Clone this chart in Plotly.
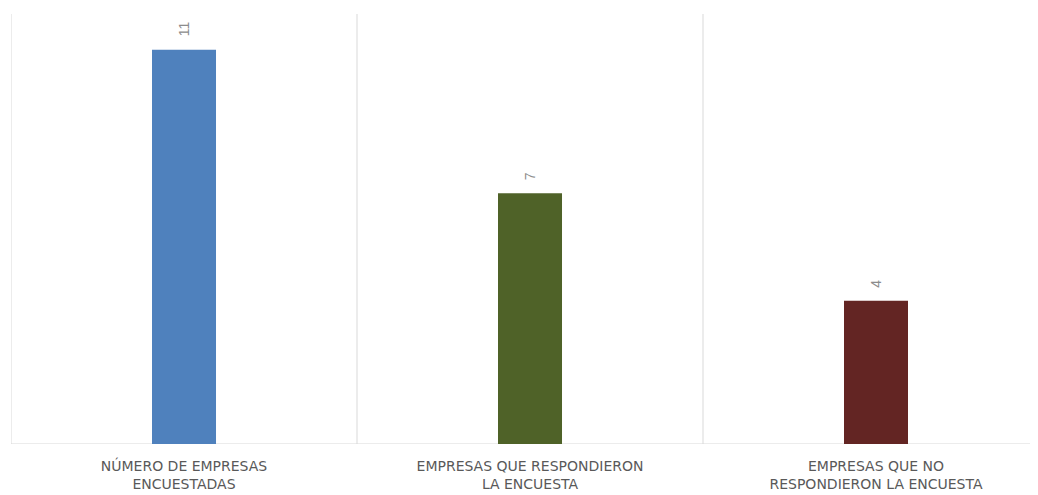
import plotly.graph_objects as go

categories = ["NÚMERO DE EMPRESAS<br>ENCUESTADAS",
              "EMPRESAS QUE RESPONDIERON<br>LA ENCUESTA",
              "EMPRESAS QUE NO<br>RESPONDIERON LA ENCUESTA"]
values = [11, 7, 4]
colors = ["#4F81BD", "#4F6228", "#632523"]

xs = list(range(len(categories)))

fig = go.Figure()
fig.add_trace(go.Bar(
    x=xs, y=values, width=0.185,
    marker=dict(color=colors, line=dict(width=0)),
    hoverinfo="skip", showlegend=False,
))

for x, v in zip(xs, values):
    fig.add_annotation(x=x, y=v, text=str(v), showarrow=False,
                       textangle=-90, yanchor="bottom", yshift=11,
                       font=dict(family="Liberation Sans, Arial", size=14, color="#8c8c8c"))

# category separator lines
for i in range(len(categories)):
    fig.add_shape(type="line", x0=i - 0.5, x1=i - 0.5, y0=0, y1=1,
                  xref="x", yref="paper", line=dict(color="#d9d9d9", width=1), layer="below")
# baseline
fig.add_shape(type="line", x0=0, x1=1, y0=0, y1=0, xref="paper", yref="y",
              line=dict(color="#d9d9d9", width=1), layer="below")

W, H = 1030, 487
L = 3
fig.update_layout(
    width=W, height=H,
    margin=dict(l=L, r=0, t=6, b=51),
    paper_bgcolor="white", plot_bgcolor="white",
    xaxis=dict(range=[-0.5, -0.5 + (W - L) / 346], tickvals=xs, ticktext=categories,
               showgrid=False, zeroline=False, showline=False,
               ticks="outside", ticklen=9, tickcolor="rgba(0,0,0,0)",
               tickfont=dict(family="DejaVu Sans, Liberation Sans", size=14, color="#595959")),
    yaxis=dict(range=[0, 12], visible=False, showgrid=False, zeroline=False),
)

fig.write_html("out.html")
